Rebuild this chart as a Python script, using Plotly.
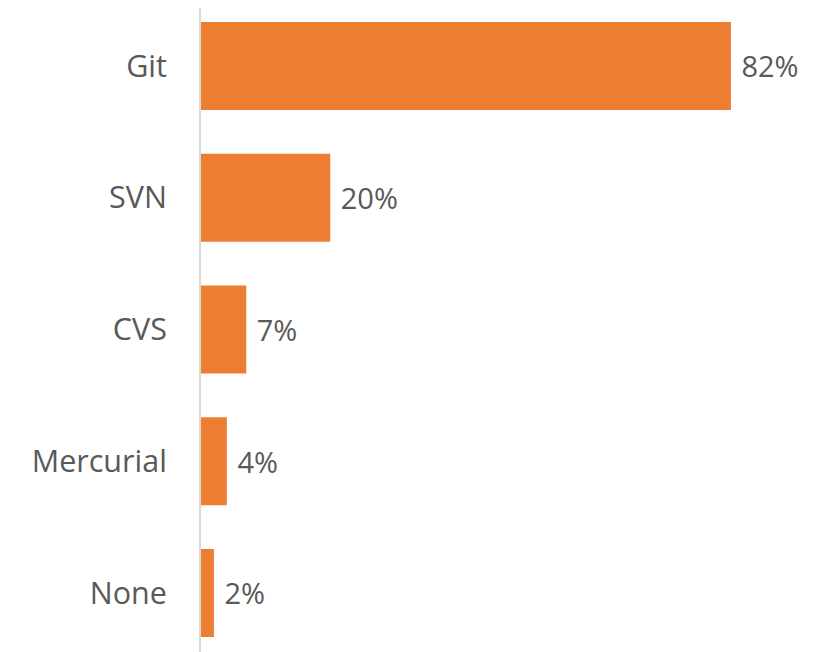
import plotly.graph_objects as go

# Dados (de baixo para cima)
tools = ['None', 'Mercurial', 'CVS', 'SVN', 'Git']
share = [2, 4, 7, 20, 82]
labels = [f' {v}%' for v in share]

orange = '#ED7D31'
grey_text = '#595959'
fonte = 'Open Sans'

fig = go.Figure(go.Bar(
    x=share,
    y=tools,
    orientation='h',
    marker=dict(color=orange, line=dict(width=0)),
    width=0.667,
    text=labels,
    textposition='outside',
    textfont=dict(family=fonte, size=29, color=grey_text),
    cliponaxis=False,
))

fig.update_layout(
    width=825,
    height=652,
    margin=dict(l=193, r=0, t=0, b=0, autoexpand=False),
    paper_bgcolor='white',
    plot_bgcolor='white',
    showlegend=False,
    font=dict(family=fonte, color=grey_text),
    xaxis=dict(
        range=[0, 97.8],
        showgrid=False,
        zeroline=False,
        showticklabels=False,
        showline=False,
        automargin=False,
    ),
    yaxis=dict(
        range=[-0.509, 4.44],
        showgrid=False,
        zeroline=False,
        showline=True,
        linecolor='#D9D9D9',
        linewidth=2,
        ticks='',
        ticklabelstandoff=26,
        automargin=False,
        tickfont=dict(family=fonte, size=30.5, color=grey_text),
    ),
)

fig.write_html("out.html")
